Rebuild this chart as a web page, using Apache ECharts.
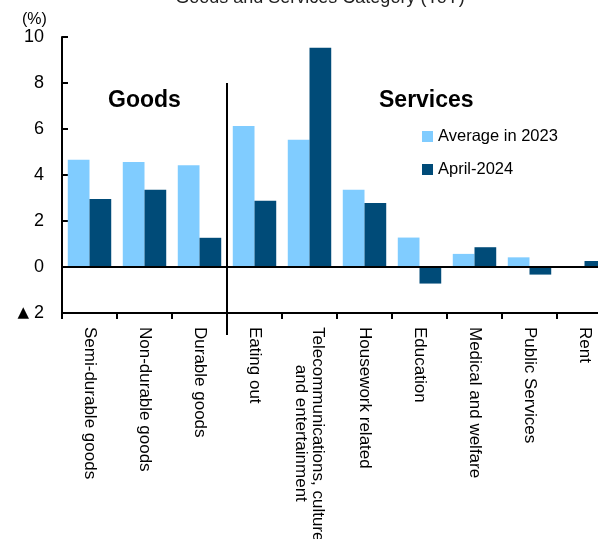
<!DOCTYPE html>
<html>
<head>
<meta charset="utf-8">
<script src="https://cdn.jsdelivr.net/npm/echarts@6/dist/echarts.min.js"></script>
<style>
  html, body { margin: 0; padding: 0; background: #fff; }
  #main { width: 598px; height: 539px; }
</style>
</head>
<body>
<div id="main"></div>
<script>
// categories (goods first, then services)
var categories = [
    'Semi-durable goods', 'Non-durable goods', 'Durable goods',
    'Eating out', 'Telecommunications, culture\nand entertainment', 'Housework related',
    'Education', 'Medical and welfare', 'Public Services', 'Rent'
];
var avg2023 = [4.66, 4.57, 4.42, 6.13, 5.53, 3.36, 1.28, 0.57, 0.42, 0.0];
var apr2024 = [2.96, 3.36, 1.27, 2.88, 9.53, 2.78, -0.72, 0.86, -0.33, 0.26];
var seriesNames = ['Average in 2023', 'April-2024'];
var yTicks = { min: -2, max: 10, interval: 2 };
var goodsCount = 3;

var font = "'Liberation Sans', Arial, sans-serif";
var labelSize = 17;

// centre the lines of two-line labels on each other by padding with spaces
var ctx = document.createElement('canvas').getContext('2d');
ctx.font = labelSize + 'px ' + font;
function lineWidth(s) { return ctx.measureText(s).width; }
var spaceW = lineWidth(' ') || 4.7;
var axisLabels = categories.map(function(c) {
    var parts = c.split('\n');
    if (parts.length === 1) return c;
    var w = Math.max.apply(null, parts.map(lineWidth));
    return parts.map(function(p) {
        var n = Math.round((w - lineWidth(p)) / 2 / spaceW);
        return new Array(n + 1).join(' ') + p;
    }).join('\n');
});

var dom = document.getElementById('main');
var myChart = echarts.init(dom);

var option = {
    animation: false,
    textStyle: { fontFamily: font },
    title: [{
        text: 'Goods and Services Category (YoY)',
        left: 315,
        textAlign: 'center',
        top: -16,
        textStyle: { fontFamily: font, fontSize: 18, fontWeight: 'normal', color: '#222' }
    }, {
        text: '(%)',
        left: 17,
        top: 7,
        textStyle: { fontFamily: font, fontSize: 16, fontWeight: 'normal', color: '#000' }
    }, {
        text: 'Goods',
        left: 103,
        top: 84,
        textStyle: { fontFamily: font, fontSize: 23, fontWeight: 'bold', color: '#000' }
    }, {
        text: 'Services',
        left: 374,
        top: 84,
        textStyle: { fontFamily: font, fontSize: 23, fontWeight: 'bold', color: '#000' }
    }],
    legend: {
        orient: 'vertical',
        left: 422,
        top: 128,
        padding: 0,
        itemWidth: 11,
        itemHeight: 11,
        itemGap: 16,
        icon: 'rect',
        textStyle: { fontFamily: font, fontSize: 16.5, color: '#000' },
        data: seriesNames
    },
    grid: {
        left: 62,
        top: 37,
        width: 550,
        height: 276,
        outerBoundsMode: 'none',
        containLabel: false
    },
    xAxis: {
        type: 'category',
        data: axisLabels,
        boundaryGap: true,
        axisLine: { onZero: false, lineStyle: { color: '#000', width: 2 } },
        axisTick: { show: true, inside: false, length: 6, interval: 0, lineStyle: { color: '#000', width: 2 } },
        axisLabel: {
            interval: 0,
            rotate: -90,
            margin: 14,
            fontFamily: font,
            fontSize: labelSize,
            color: '#000'
        }
    },
    yAxis: {
        type: 'value',
        min: yTicks.min,
        max: yTicks.max,
        interval: yTicks.interval,
        splitLine: { show: false },
        axisLine: { show: true, lineStyle: { color: '#000', width: 2 } },
        axisTick: { show: true, inside: true, length: 6, lineStyle: { color: '#000', width: 2 } },
        axisLabel: {
            margin: 18,
            fontFamily: font,
            fontSize: 18,
            color: '#000',
            formatter: function(v) {
                return v < 0 ? '{t|▲} ' + Math.abs(v) : String(v);
            },
            rich: {
                t: { fontFamily: 'DejaVu Sans', fontSize: 15, color: '#000' }
            }
        }
    },
    series: [{
        name: seriesNames[0],
        type: 'bar',
        data: avg2023,
        barGap: '0%',
        barCategoryGap: '21%',
        itemStyle: { color: '#80ccff' },
        markLine: {
            silent: true,
            symbol: 'none',
            label: { show: false },
            lineStyle: { color: '#000', width: 2, type: 'solid' },
            data: [{ yAxis: 0 }]
        }
    }, {
        name: seriesNames[1],
        type: 'bar',
        data: apr2024,
        barGap: '0%',
        barCategoryGap: '21%',
        itemStyle: { color: '#004b78' }
    }]
};

myChart.setOption(option);

// divider between goods and services, placed from the axes
var xa = myChart.convertToPixel({ xAxisIndex: 0 }, goodsCount - 1);
var xb = myChart.convertToPixel({ xAxisIndex: 0 }, goodsCount);
var xDiv = (xa + xb) / 2;
var yTop = myChart.convertToPixel({ yAxisIndex: 0 }, 8);
var yBot = myChart.convertToPixel({ yAxisIndex: 0 }, yTicks.min) + 22;
myChart.setOption({
    graphic: [{
        type: 'line',
        silent: true,
        shape: { x1: xDiv, y1: yTop, x2: xDiv, y2: yBot },
        style: { stroke: '#000', lineWidth: 2 },
        z: 10
    }]
});

window.addEventListener('resize', function() {
    myChart.resize();
});
</script>
</body>
</html>
